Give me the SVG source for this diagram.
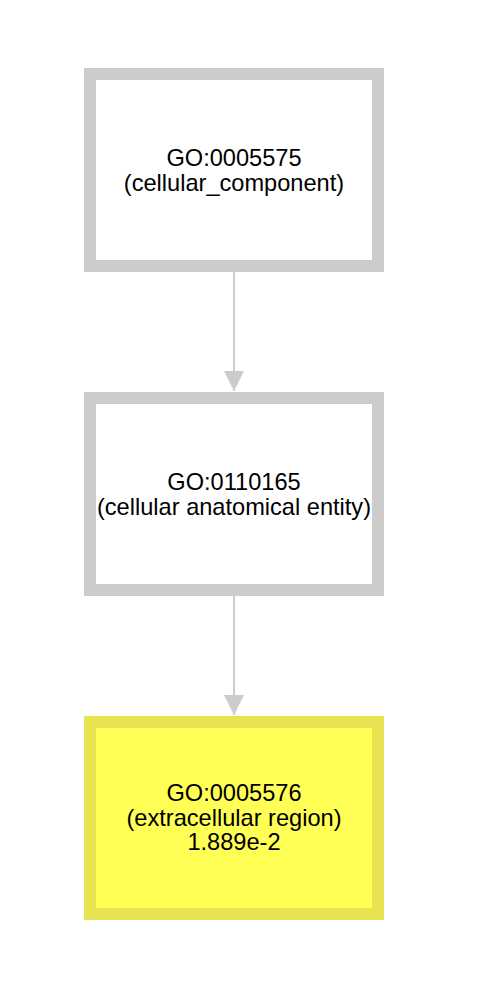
<svg xmlns="http://www.w3.org/2000/svg" width="480" height="992" viewBox="0 0 480 992">
<defs>
<style>
.box{stroke-width:12;}
.gray{fill:#ffffff;stroke:#cccccc;}
.yel{fill:#ffff55;stroke:#e8e350;}
.lbl{font-family:"Liberation Sans",Arial,Helvetica,sans-serif;font-size:23.6px;fill:#000000;text-anchor:middle;}
.edge{stroke:#cccccc;stroke-width:2;fill:none;}
</style>
<marker id="arr" viewBox="0 0 20 20" refX="20" refY="10" markerWidth="20" markerHeight="20" markerUnits="userSpaceOnUse" orient="auto">
<path d="M0,0 L20,10 L0,20 Z" fill="#cccccc"/>
</marker>
</defs>
<rect width="480" height="992" fill="#ffffff"/>
<g id="connectors">
<line class="edge" x1="234" y1="272" x2="234" y2="391" marker-end="url(#arr)"/>
<line class="edge" x1="234" y1="596" x2="234" y2="715" marker-end="url(#arr)"/>
</g>
<g id="GO0005575">
<rect class="box gray" x="90" y="74" width="288" height="192"/>
<text class="lbl" x="234" y="166">GO:0005575</text>
<text class="lbl" x="234" y="191">(cellular_component)</text>
</g>
<g id="GO0110165">
<rect class="box gray" x="90" y="398" width="288" height="192"/>
<text class="lbl" x="234" y="490">GO:0110165</text>
<text class="lbl" x="234" y="515">(cellular anatomical entity)</text>
</g>
<g id="GO0005576">
<rect class="box yel" x="90" y="722" width="288" height="192"/>
<text class="lbl" x="234" y="801">GO:0005576</text>
<text class="lbl" x="234" y="826">(extracellular region)</text>
<text class="lbl" x="234" y="850">1.889e-2</text>
</g>
</svg>
